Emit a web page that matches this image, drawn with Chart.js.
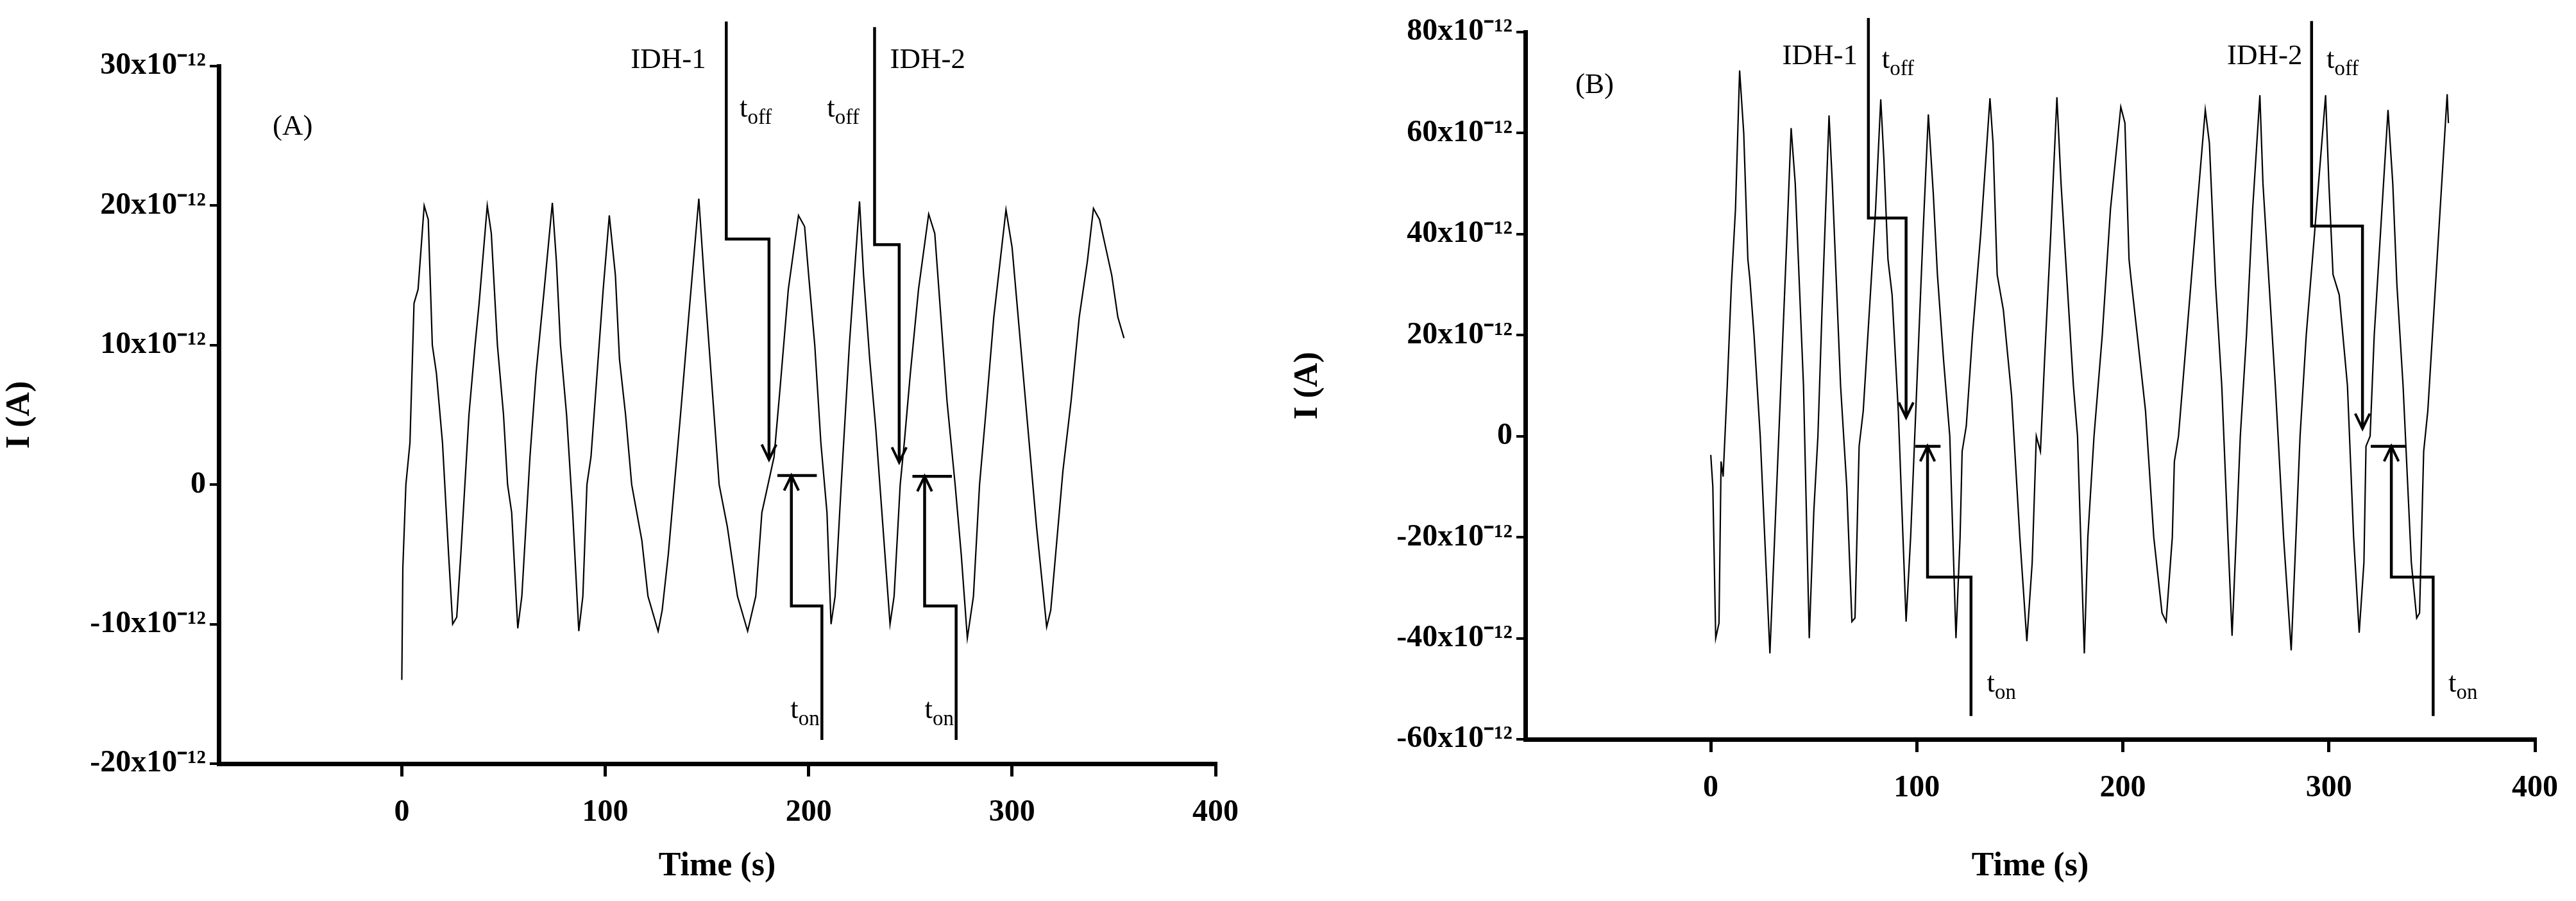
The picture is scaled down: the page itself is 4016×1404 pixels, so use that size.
<!DOCTYPE html>
<html><head><meta charset="utf-8">
<script src="https://cdn.jsdelivr.net/npm/chart.js@4"></script>
<style>body{margin:0;background:#fff;width:4016px;height:1404px;position:relative;overflow:hidden}
.p{position:absolute;top:0;height:1404px}</style></head><body>
<div class="p" style="left:0;width:2008px"><canvas id="a"></canvas></div>
<div class="p" style="left:2008px;width:2008px"><canvas id="b"></canvas></div>
<script>
// ---- data ----
const xTicks=[0,100,200,300,400];
const yTicksA=[-20,-10,0,10,20,30];
const yTicksB=[-60,-40,-20,0,20,40,60,80];
const seriesA=[[0,-14],[0.5,-6],[2,0],[4,3],[6,13],[8,14],[11,20],[13,19],[15,10],[17,8],[20,3],[23,-5],[25,-10],[27,-9.5],[29,-5],[31,0],[33,5],[36,10],[38,13],[42,20],[44,18],[47,10],[50,5],[52,0],[54,-2],[57,-10.3],[59,-8],[61,-3],[63,2],[66,8],[70,14],[74,20.2],[76,16],[78,10],[81,5],[84,-2],[87,-10.5],[89,-8],[91,0],[93,2],[96,8],[99,14],[102,19.3],[105,15],[107,9],[110,5],[113,0],[118,-4],[121,-8],[126,-10.5],[128,-9],[131,-5],[134,0],[137,5],[141,12],[146,20.5],[149,14],[152,8],[156,0],[160,-3],[165,-8],[170,-10.5],[174,-8],[177,-2],[180,0],[183,2],[186,7],[190,14],[195,19.3],[198,18.5],[200,15],[203,10],[206,3],[209,-2],[211,-10],[213,-8],[216,0],[220,10],[225,20.3],[227,15],[230,9],[233,4],[236,-2],[240,-10],[242,-8],[245,0],[247,3],[250,8],[254,14],[259,19.4],[262,18],[265,12],[268,6],[272,0],[275,-5],[278,-11],[281,-8],[284,0],[287,5],[291,12],[297,19.7],[300,17],[303,12],[306,7],[309,2],[312,-3],[317,-10.2],[319,-9],[322,-4],[325,1],[329,6],[333,12],[337,16],[340,19.8],[343,19],[346,17],[349,15],[352,12],[355,10.5]];
const seriesB=[[0,-3.7],[1,-10],[2.4,-40],[4,-37],[5,-5],[6,-8],[8,10],[10,30],[12,45],[14,72.4],[16,60],[18,35],[19,31],[21,20],[24,0],[28.7,-43],[31,-20],[33,0],[35,20],[37,40],[39,61],[41,50],[43,30],[45,10],[47.8,-40],[50,-15],[52,0],[54,25],[57.4,63.5],[59,50],[61,30],[63,10],[66,-10],[68.5,-36.7],[70,-36],[72,-2],[74,5],[77,25],[80,45],[82.5,66.7],[84,55],[86,35],[88,28],[91,5],[94.8,-36.7],[97,-20],[99,0],[101,20],[103,40],[105.6,63.7],[108,48],[110,32],[113,15],[116,0],[119,-40],[121,-20],[122,-3],[124,2],[127,20],[131,40],[135.5,66.9],[137,58],[139,32],[142,25],[146,8],[150,-20],[153.4,-40.6],[156,-25],[158,0],[160,-3],[162,15],[165,40],[168,67.1],[170,50],[173,30],[176,10],[178,0],[181.3,-43],[183,-20],[186,0],[190,20],[194,45],[199,65.2],[201,62],[203,35],[204,31],[207,20],[211,5],[215,-20],[219,-35],[221,-36.7],[224,-20],[225,-5],[227,0],[231,20],[236,45],[240,64.6],[242,58],[245,30],[248,10],[251,-20],[253,-39.5],[255,-20],[257,0],[260,20],[263,45],[266.5,67.5],[268,50],[271,30],[274,10],[278,-20],[281.7,-42.4],[284,-20],[286,0],[289,20],[293,40],[298.4,67.5],[300,50],[302,32],[305,28],[309,10],[312,-20],[314.7,-38.9],[317,-25],[318,-2],[320,0],[322,20],[325,40],[328.7,64.6],[331,50],[333,30],[336,10],[340,-25],[342.6,-36],[344,-35],[346,-3],[348,5],[351,25],[354,45],[357.4,67.7],[358,62]];
const offPathsA=[[[159.5,33.2],[159.5,17.6],[180.5,17.6],[180.5,1.8]],[[232.4,32.8],[232.4,17.2],[244.5,17.2],[244.5,1.6]]];
const onPathsA=[[[206.5,-18.3],[206.5,-8.7],[191.5,-8.7],[191.5,0.65]],[[272.5,-18.3],[272.5,-8.7],[257,-8.7],[257,0.6]]];
const barsA=[[[184.6,0.65],[204,0.65]],[[251,0.6],[270.4,0.6]]];
const offPathsB=[[[76.5,82.8],[76.5,43.2],[94.8,43.2],[94.8,3.7]],[[291.6,82.2],[291.6,41.6],[316.3,41.6],[316.3,1.5]]];
const onPathsB=[[[126.3,-55.4],[126.3,-27.9],[105.2,-27.9],[105.2,-2]],[[350.6,-55.4],[350.6,-27.9],[330.3,-27.9],[330.3,-2]]];
const barsB=[[[99.2,-2],[111.5,-2]],[[320.3,-2],[337.5,-2]]];
const labelsA=[["IDH-1","",112.5,30.6],["IDH-2","",240,30.6],["t","off",166,27.1],["t","off",209,27.1],["t","on",191,-16],["t","on",257,-16],["(A)","",-63.5,25.8]];
const labelsB=[["IDH-1","",34.7,75.7],["IDH-2","",250.6,75.7],["t","off",83,74.9],["t","off",298.8,74.9],["t","on",134,-48.6],["t","on",358,-48.6],["(B)","",-65.7,70]];

function pts(a){return a.map(p=>({x:p[0],y:p[1]}));}
const ann={id:'ann',afterDatasetsDraw(c,args,o){
  const ctx=c.ctx,X=c.scales.x,Y=c.scales.y;
  ctx.save();ctx.strokeStyle='#000';ctx.fillStyle='#000';
  const arrow=(p,q)=>{const x1=X.getPixelForValue(p[0]),y1=Y.getPixelForValue(p[1]),x2=X.getPixelForValue(q[0]),y2=Y.getPixelForValue(q[1]);
    const an=Math.atan2(y2-y1,x2-x1),L=26,w=0.45;ctx.lineWidth=4;ctx.beginPath();
    ctx.moveTo(x2-L*Math.cos(an-w),y2-L*Math.sin(an-w));ctx.lineTo(x2,y2);ctx.lineTo(x2-L*Math.cos(an+w),y2-L*Math.sin(an+w));ctx.stroke();};
  o.arrows.forEach(path=>arrow(path[path.length-2],path[path.length-1]));
  o.labels.forEach(l=>{const x=X.getPixelForValue(l[2]),y=Y.getPixelForValue(l[3]);
    ctx.font='45px "Liberation Serif"';ctx.textBaseline='alphabetic';ctx.textAlign='left';ctx.fillText(l[0],x,y+16);
    if(l[1]){const w=ctx.measureText(l[0]).width;ctx.font='33px "Liberation Serif"';ctx.fillText(l[1],x+w,y+27);}});
  ctx.restore();}};
function make(id,series,offP,onP,bars,labels,yt,ymin,ymax,box){
  const ds=[{data:pts(series),borderColor:'#000',borderWidth:2.2,pointRadius:0,tension:0}];
  [...offP,...onP,...bars].forEach(p=>ds.push({data:pts(p),borderColor:'#000',borderWidth:4.5,pointRadius:0,clip:false}));
  const fmt=v=>v===0?'0':v+'x10⁻¹²';
  new Chart(document.getElementById(id),{type:'line',data:{datasets:ds},plugins:[ann],
   options:{responsive:true,maintainAspectRatio:false,animation:false,
    layout:{padding:{top:box.top,right:box.right,bottom:0,left:0}},
    plugins:{legend:{display:false},tooltip:{enabled:false},ann:{arrows:[...offP,...onP],labels:labels}},
    scales:{
     x:{type:'linear',min:-90,max:400,afterBuildTicks:s=>{s.ticks=xTicks.map(v=>({value:v}));},
       afterFit:s=>{s.height=1404-box.bottom;},
       border:{color:'#000',width:7},grid:{drawOnChartArea:false,color:'#000',tickLength:20,lineWidth:5},
       ticks:{color:'#000',font:{family:'Liberation Serif',size:48,weight:'bold'},padding:28,maxRotation:0},
       title:{display:true,text:'Time (s)',color:'#000',font:{family:'Liberation Serif',size:52,weight:'bold'},padding:{top:0,bottom:22}}},
     y:{type:'linear',min:ymin,max:ymax,afterBuildTicks:s=>{s.ticks=yt.map(v=>({value:v}));},
       afterFit:s=>{s.width=box.left;},
       border:{color:'#000',width:7},grid:{drawOnChartArea:false,color:'#000',tickLength:14,lineWidth:4},
       ticks:{color:'#000',font:{family:'Liberation Serif',size:48,weight:'bold'},padding:6,callback:fmt},
       title:{display:true,text:'I (A)',color:'#000',font:{family:'Liberation Serif',size:52,weight:'bold'},padding:{top:0,bottom:22}}}}}});
}
make('a',seriesA,offPathsA,onPathsA,barsA,labelsA,yTicksA,-20,30,{left:341,right:2008-1895,top:103,bottom:1190});
make('b',seriesB,offPathsB,onPathsB,barsB,labelsB,yTicksB,-60,80,{left:370,right:2008-1952,top:50,bottom:1152});
</script></body></html>
